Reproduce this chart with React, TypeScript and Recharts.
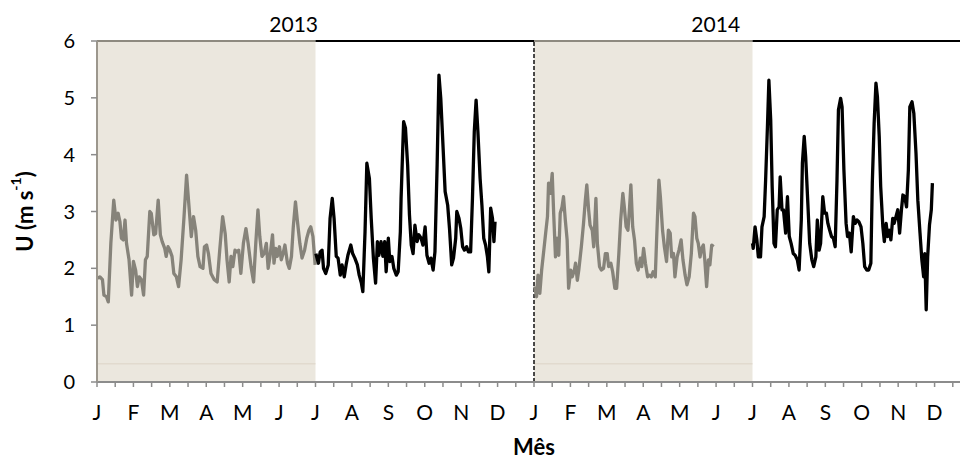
import { LineChart, Line, XAxis, YAxis, ReferenceArea, ReferenceLine, ReferenceDot } from 'recharts';

// x = month index counted from Jan 2013 (0 = J 2013, 12 = J 2014), y = U (m s-1)
const monthLabels = ['J', 'F', 'M', 'A', 'M', 'J', 'J', 'A', 'S', 'O', 'N', 'D'];
const yTicks = [0, 1, 2, 3, 4, 5, 6];
const shadedSpans: [number, number][] = [[0, 6], [12, 18]];
const openSpans: [number, number][] = [[6, 12], [18, 24]];
const yearLabels = [
  { year: '2013', m: 5.4 },
  { year: '2014', m: 16.99 },
];

const gray2013: [number, number][] = [
  [0.02, 1.82], [0.08, 1.85], [0.15, 1.8], [0.19, 1.53], [0.26, 1.5], [0.31, 1.41], [0.38, 2.44],
  [0.46, 3.2], [0.52, 2.85], [0.58, 2.97], [0.63, 2.82], [0.67, 2.53], [0.72, 2.5], [0.77, 2.85],
  [0.81, 2.44], [0.88, 2.15], [0.95, 1.53], [1.0, 2.12], [1.06, 1.97], [1.11, 1.68], [1.16, 1.85],
  [1.22, 1.8], [1.28, 1.53], [1.33, 2.15], [1.38, 2.21], [1.45, 3.0], [1.49, 2.97], [1.56, 2.59],
  [1.61, 2.61], [1.68, 3.2], [1.74, 2.59], [1.79, 2.47], [1.86, 2.35], [1.9, 2.21], [1.95, 2.38],
  [2.0, 2.32], [2.06, 2.21], [2.11, 1.91], [2.18, 1.85], [2.24, 1.68], [2.31, 2.15], [2.39, 2.91],
  [2.46, 3.64], [2.52, 3.14], [2.59, 2.56], [2.65, 2.91], [2.71, 2.67], [2.77, 2.21], [2.83, 2.03],
  [2.91, 2.0], [2.95, 2.38], [3.01, 2.41], [3.06, 2.26], [3.13, 1.91], [3.22, 1.8], [3.3, 1.76],
  [3.37, 2.32], [3.45, 2.91], [3.52, 2.61], [3.57, 2.15], [3.63, 1.76], [3.68, 2.21], [3.73, 2.03],
  [3.79, 2.32], [3.84, 2.29], [3.89, 2.32], [3.95, 1.91], [4.02, 2.44], [4.09, 2.7], [4.15, 2.44],
  [4.23, 2.03], [4.3, 1.76], [4.36, 2.44], [4.42, 3.03], [4.47, 2.56], [4.53, 2.21], [4.59, 2.26],
  [4.65, 2.44], [4.7, 2.0], [4.75, 2.21], [4.82, 2.59], [4.86, 2.09], [4.91, 2.35], [4.95, 2.21],
  [5.01, 2.38], [5.06, 2.15], [5.11, 2.26], [5.16, 2.41], [5.23, 2.09], [5.28, 2.0], [5.34, 2.21],
  [5.39, 2.73], [5.45, 3.17], [5.5, 2.85], [5.57, 2.44], [5.63, 2.18], [5.7, 2.32], [5.76, 2.53],
  [5.82, 2.67], [5.87, 2.73], [5.93, 2.56], [5.99, 2.06],
];

const black2013: [number, number][] = [
  [6.01, 2.26], [6.08, 2.09], [6.13, 2.29], [6.18, 2.32], [6.22, 2.0], [6.28, 1.91], [6.35, 2.06],
  [6.4, 2.88], [6.46, 3.23], [6.51, 2.88], [6.57, 2.21], [6.62, 2.18], [6.68, 1.88], [6.73, 2.06],
  [6.79, 1.85], [6.84, 2.06], [6.89, 2.23], [6.97, 2.41], [7.02, 2.26], [7.08, 2.18], [7.15, 2.06],
  [7.2, 1.88], [7.26, 1.74], [7.3, 1.59], [7.36, 2.64], [7.41, 3.85], [7.48, 3.58], [7.53, 2.88],
  [7.59, 2.18], [7.65, 1.74], [7.7, 2.47], [7.74, 2.23], [7.8, 2.47], [7.85, 2.21], [7.9, 2.47],
  [7.94, 1.94], [8.0, 2.53], [8.04, 2.12], [8.1, 2.21], [8.15, 2.0], [8.22, 1.88], [8.27, 1.94],
  [8.33, 2.64], [8.35, 3.23], [8.42, 4.58], [8.47, 4.47], [8.53, 3.82], [8.58, 2.94], [8.63, 2.41],
  [8.68, 2.26], [8.73, 2.76], [8.79, 2.47], [8.84, 2.59], [8.9, 2.53], [8.95, 2.41], [9.01, 2.73],
  [9.06, 2.23], [9.12, 2.09], [9.17, 2.18], [9.23, 1.97], [9.28, 2.29], [9.34, 3.82], [9.39, 5.4],
  [9.44, 4.99], [9.5, 4.17], [9.56, 3.35], [9.63, 3.11], [9.68, 2.7], [9.74, 2.06], [9.79, 2.18],
  [9.85, 2.53], [9.88, 3.0], [9.94, 2.88], [9.99, 2.7], [10.04, 2.38], [10.09, 2.32], [10.15, 2.38],
  [10.2, 2.29], [10.26, 2.29], [10.31, 3.23], [10.36, 4.4], [10.41, 4.96], [10.46, 4.4], [10.52, 3.58],
  [10.57, 3.11], [10.62, 2.53], [10.67, 2.41], [10.72, 2.21], [10.76, 1.94], [10.81, 3.06], [10.86, 2.88],
  [10.9, 2.47], [10.93, 2.82],
];

const gray2014: [number, number][] = [
  [12.02, 1.68], [12.07, 1.5], [12.11, 1.88], [12.16, 1.56], [12.21, 1.97], [12.27, 2.32], [12.32, 2.62],
  [12.37, 2.91], [12.4, 3.5], [12.45, 3.32], [12.5, 3.67], [12.54, 2.97], [12.59, 2.2], [12.63, 2.53],
  [12.68, 2.23], [12.72, 2.97], [12.77, 3.08], [12.81, 3.26], [12.86, 2.85], [12.91, 2.5], [12.95, 1.65],
  [13.01, 1.97], [13.05, 1.85], [13.11, 1.97], [13.14, 2.09], [13.19, 1.79], [13.23, 1.97], [13.3, 2.38],
  [13.36, 2.79], [13.41, 3.2], [13.45, 3.47], [13.5, 3.03], [13.54, 2.76], [13.6, 2.67], [13.64, 2.38],
  [13.7, 3.23], [13.74, 2.44], [13.8, 2.03], [13.85, 1.97], [13.91, 2.0], [13.96, 2.26], [14.01, 2.26],
  [14.05, 2.03], [14.11, 2.09], [14.16, 1.94], [14.22, 1.65], [14.27, 1.65], [14.33, 2.26], [14.38, 2.85],
  [14.44, 3.32], [14.48, 3.08], [14.53, 2.73], [14.58, 2.67], [14.62, 3.03], [14.66, 3.47], [14.71, 2.73],
  [14.76, 2.5], [14.81, 2.09], [14.86, 1.97], [14.92, 2.18], [14.96, 2.03], [15.01, 2.35], [15.06, 2.09],
  [15.12, 1.85], [15.17, 1.88], [15.22, 1.85], [15.27, 1.94], [15.33, 1.85], [15.37, 2.56], [15.43, 3.55],
  [15.47, 3.26], [15.53, 2.67], [15.58, 2.38], [15.64, 2.12], [15.69, 2.67], [15.74, 2.62], [15.78, 2.2],
  [15.83, 2.26], [15.87, 1.85], [15.93, 2.2], [15.98, 2.32], [16.04, 2.5], [16.09, 2.15], [16.15, 1.88],
  [16.2, 1.71], [16.26, 1.85], [16.32, 2.26], [16.38, 2.97], [16.42, 2.91], [16.47, 2.53], [16.51, 2.44],
  [16.56, 2.2], [16.6, 2.35], [16.65, 2.41], [16.69, 2.15], [16.74, 1.68], [16.79, 2.15], [16.83, 2.06],
  [16.88, 2.41], [16.93, 2.38],
];

const black2014: [number, number][] = [
  [18.0, 2.44], [18.02, 2.35], [18.07, 2.73], [18.12, 2.5], [18.16, 2.2], [18.22, 2.2], [18.26, 2.73],
  [18.32, 2.91], [18.36, 3.55], [18.41, 4.49], [18.45, 5.31], [18.5, 4.61], [18.54, 3.44], [18.59, 2.44],
  [18.63, 2.38], [18.68, 3.03], [18.73, 3.08], [18.76, 3.61], [18.81, 3.03], [18.85, 3.03], [18.91, 2.62],
  [18.96, 3.26], [19.01, 2.56], [19.06, 2.44], [19.12, 2.26], [19.17, 2.23], [19.23, 2.15], [19.28, 1.97],
  [19.34, 2.85], [19.37, 3.85], [19.42, 4.32], [19.46, 3.96], [19.52, 3.14], [19.57, 2.44], [19.63, 2.15],
  [19.68, 2.03], [19.74, 2.2], [19.78, 2.85], [19.83, 2.32], [19.87, 2.44], [19.93, 3.26], [19.98, 2.97],
  [20.03, 2.97], [20.07, 2.79], [20.12, 2.67], [20.17, 2.56], [20.22, 2.53], [20.27, 2.38], [20.32, 3.55],
  [20.36, 4.79], [20.42, 4.99], [20.46, 4.84], [20.51, 3.73], [20.57, 2.79], [20.61, 2.56], [20.66, 2.62],
  [20.71, 2.29], [20.77, 2.91], [20.82, 2.79], [20.87, 2.85], [20.92, 2.82], [20.98, 2.73], [21.03, 2.44],
  [21.08, 2.03], [21.14, 1.97], [21.19, 1.97], [21.25, 2.09], [21.29, 3.5], [21.34, 4.55], [21.39, 5.26],
  [21.43, 5.02], [21.48, 4.32], [21.52, 3.44], [21.58, 2.73], [21.62, 2.47], [21.67, 2.79], [21.71, 2.56],
  [21.76, 2.67], [21.8, 2.5], [21.85, 2.88], [21.89, 2.79], [21.94, 2.91], [21.99, 3.03], [22.04, 2.62],
  [22.09, 3.03], [22.13, 3.29], [22.18, 3.26], [22.23, 3.08], [22.28, 3.73], [22.32, 4.84], [22.38, 4.93],
  [22.43, 4.73], [22.49, 4.02], [22.54, 3.2], [22.6, 2.62], [22.65, 2.15], [22.7, 1.85], [22.73, 2.26],
  [22.77, 1.27], [22.81, 2.2], [22.86, 2.76], [22.91, 3.03], [22.94, 3.5],
];

const toPoints = (rows: [number, number][]) => rows.map(([m, u]) => ({ m, u }));
const xTicks = Array.from({ length: 48 }, (_, i) => i / 2);

const FONT = 'Lato, "Open Sans", sans-serif';

function YTitle(props: any) {
  const vb = props.viewBox;
  const cx = 24;
  const cy = vb.y + vb.height / 2;
  return (
    <text
      x={cx}
      y={cy}
      transform={`rotate(-90 ${cx} ${cy})`}
      textAnchor="middle"
      dominantBaseline="central"
      fontWeight="bold"
      fontSize={22}
      fill="#000"
      fontFamily={FONT}
    >
      U (m s<tspan baselineShift="super" fontSize={14}>-1</tspan>)
    </text>
  );
}

function XTitle(props: any) {
  const vb = props.viewBox;
  return (
    <text
      x={vb.x + vb.width / 2}
      y={455}
      textAnchor="middle"
      fontWeight="bold"
      fontSize={22}
      fill="#000"
      fontFamily={FONT}
    >
      Mês
    </text>
  );
}

export default function App() {
  return (
    <div style={{ width: 960, height: 464, overflow: 'hidden', fontFamily: FONT, background: '#fff' }}>
      <style>{'body{margin:0}'}</style>
      <LineChart width={971} height={464} margin={{ top: 41, right: 0, bottom: 32, left: 0 }}>
        {shadedSpans.map(([a, b]) => (
          <ReferenceArea key={`s${a}`} x1={a} x2={b} y1={0} y2={6} fill="#ebe7de" fillOpacity={1} stroke="none" />
        ))}
        {shadedSpans.map(([a, b]) => (
          <ReferenceLine key={`f${a}`} segment={[{ x: a, y: 0.32 }, { x: b, y: 0.32 }]} stroke="#dcd3c6" strokeWidth={1} />
        ))}
        {shadedSpans.map(([a, b]) => (
          <ReferenceLine key={`g${a}`} segment={[{ x: a, y: 6 }, { x: b, y: 6 }]} stroke="#8e8a80" strokeWidth={2} />
        ))}
        {openSpans.map(([a, b]) => (
          <ReferenceLine key={`o${a}`} segment={[{ x: a, y: 6 }, { x: b, y: 6 }]} stroke="#000" strokeWidth={2} />
        ))}
        <ReferenceLine x={12} stroke="#111" strokeWidth={1.5} strokeDasharray="4 2" />
        {yearLabels.map((d) => (
          <ReferenceDot
            key={d.year}
            x={d.m}
            y={6}
            r={0}
            fill="none"
            stroke="none"
            label={{ value: d.year, position: 'top', offset: 9, fill: '#000', fontSize: 21, fontFamily: FONT }}
          />
        ))}
        <XAxis
          type="number"
          dataKey="m"
          domain={[0, 24]}
          ticks={xTicks}
          interval={0}
          tickFormatter={(v: number) => (Number.isInteger(v) ? monthLabels[v % 12] : '')}
          tick={{ fill: '#000', fontSize: 21 }}
          tickSize={5}
          tickMargin={18}
          tickLine={{ stroke: '#8c8c8c', strokeWidth: 1.5 }}
          axisLine={{ stroke: '#8c8c8c', strokeWidth: 2 }}
          height={50}
          label={<XTitle />}
        />
        <YAxis
          type="number"
          domain={[0, 6]}
          ticks={yTicks}
          interval={0}
          tick={{ fill: '#000', fontSize: 20 }}
          tickSize={6}
          tickMargin={16}
          tickLine={{ stroke: '#8c8c8c', strokeWidth: 1.5 }}
          axisLine={{ stroke: '#9c978d', strokeWidth: 2 }}
          width={97}
          label={<YTitle />}
        />
        <Line data={toPoints(gray2013)} dataKey="u" type="linear" stroke="#86837a" strokeWidth={3.3} strokeLinejoin="round" dot={false} activeDot={false} isAnimationActive={false} />
        <Line data={toPoints(black2013)} dataKey="u" type="linear" stroke="#000" strokeWidth={3.3} strokeLinejoin="round" dot={false} activeDot={false} isAnimationActive={false} />
        <Line data={toPoints(gray2014)} dataKey="u" type="linear" stroke="#86837a" strokeWidth={3.3} strokeLinejoin="round" dot={false} activeDot={false} isAnimationActive={false} />
        <Line data={toPoints(black2014)} dataKey="u" type="linear" stroke="#000" strokeWidth={3.3} strokeLinejoin="round" dot={false} activeDot={false} isAnimationActive={false} />
      </LineChart>
    </div>
  );
}
